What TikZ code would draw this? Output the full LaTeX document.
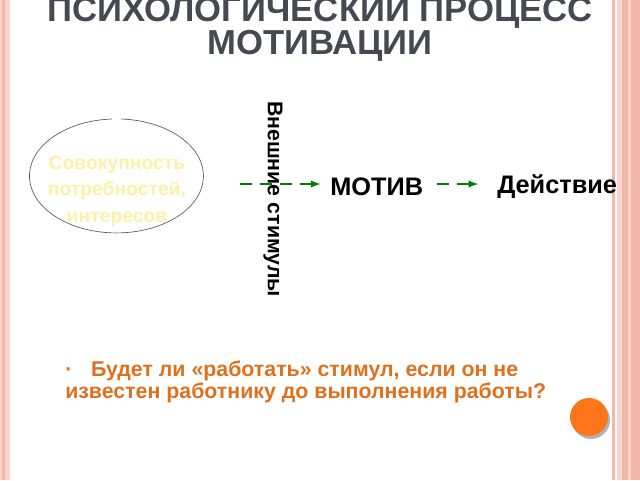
\documentclass[tikz,border=0pt]{standalone}
\usepackage{fontspec}
\setmainfont{Liberation Sans}
\begin{document}
\begin{tikzpicture}[x=0.75pt,y=-0.75pt,
  lbl/.style={font=\bfseries, inner sep=0pt},
  conn/.style={draw=green!50!black, line width=1.5pt, dash pattern=on 9pt off 6pt, -latex}]
\definecolor{pinkb}{HTML}{F4B8A8}
\definecolor{pinkl}{HTML}{F9D6CC}
\definecolor{orng}{HTML}{E0701E}
\definecolor{ttl}{HTML}{454A52}
\definecolor{ylw}{HTML}{FFF0A8}
\useasboundingbox (0,0) rectangle (640,480);
\begin{scope}
\clip (0,0) rectangle (640,480);
\fill[pinkl] (0,0) rectangle (10,480);
\fill[pinkb] (2,0) rectangle (5,480);
\fill[pinkb] (612,0) rectangle (615,480);
\fill[pinkl] (617,0) rectangle (640,480);
\fill[pinkb] (622,0) rectangle (640,480);
\fill[pinkl] (628,0) rectangle (631,480);
\node[font=\fontsize{26}{26}\bfseries, text=ttl, inner sep=0pt] (t1) at (320,9) {ПСИХОЛОГИЧЕСКИЙ ПРОЦЕСС};
\end{scope}
\node[font=\fontsize{26}{26}\bfseries, text=ttl, inner sep=0pt] (t2) at (320,46) {МОТИВАЦИИ};
\draw[gray!70!black, line width=0.5pt] (121,119) arc[start angle=-87,end angle=267,x radius=87,y radius=57];
\node[lbl, text=ylw, align=center, font=\fontsize{14.5}{20}\bfseries] (e) at (117,191) {Совокупность\\потребностей,\\интересов};
\node[lbl, rotate=-90, font=\fontsize{16}{16}\bfseries] (v) at (273,199) {Внешние стимулы};
\node[lbl, font=\fontsize{19}{19}\bfseries, anchor=west] (m) at (330,187) {МОТИВ};
\node[lbl, font=\fontsize{19}{19}\bfseries, anchor=west] (d) at (497,187) {Действие};
\coordinate (s) at (240,184);
\draw[conn] (s) -- ([xshift=-7]m.west|-s);
\draw[conn] ([xshift=10]m.east|-s) -- ([xshift=-14]d.west|-s);
\node[lbl, text=orng, align=left, anchor=north west, font=\fontsize{16}{15}\bfseries] (q) at (65,361)
 {\textperiodcentered\hspace{14pt}Будет ли «работать» стимул, если он не\\известен работнику до выполнения работы?};
\fill[gray!60] (591,420) circle (19);
\fill[orange!80!red!90!white] (589,417) circle (19);
\end{tikzpicture}
\end{document}
